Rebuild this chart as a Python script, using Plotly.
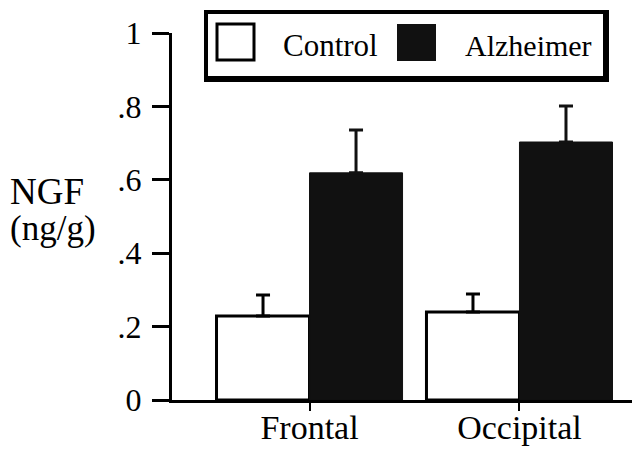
import plotly.graph_objects as go

regions = ["Frontal", "Occipital"]
series_names = ["Control", "Alzheimer"]
control_vals = [0.229, 0.240]
control_err = [0.057, 0.049]
alz_vals = [0.619, 0.703]
alz_err = [0.117, 0.098]
y_tickvals = [0, 0.2, 0.4, 0.6, 0.8, 1.0]
y_ticktext = ["0", ".2", ".4", ".6", ".8", "1"]

W, H = 640, 450
OFF = 8  # page body offset
ML, MR, MT, MB = 172 - OFF, OFF, 33 - OFF, 50 + OFF
PW, PH = W - ML - MR, H - MT - MB
FONT = "Liberation Serif, Times New Roman, serif"


def px(x):
    return (x - OFF - ML) / PW


def py(y):
    return (H - MB - (y - OFF)) / PH


fig = go.Figure()
fig.add_trace(go.Bar(
    x=regions, y=control_vals, name=series_names[0],
    marker=dict(color="white", line=dict(color="black", width=3)),
    error_y=dict(type="data", symmetric=False, array=control_err,
                 arrayminus=[0, 0], color="black", thickness=3, width=7),
    showlegend=False,
))
fig.add_trace(go.Bar(
    x=regions, y=alz_vals, name=series_names[1],
    marker=dict(color="#111111", line=dict(color="#111111", width=1)),
    error_y=dict(type="data", symmetric=False, array=alz_err,
                 arrayminus=[0, 0], color="#111111", thickness=3, width=7),
    showlegend=False,
))

shapes = [
    dict(type="rect", xref="paper", yref="paper", x0=px(204), x1=px(609),
         y0=py(82), y1=py(10), fillcolor="black", line=dict(width=0), layer="above"),
    dict(type="rect", xref="paper", yref="paper", x0=px(208), x1=px(603),
         y0=py(76), y1=py(14), fillcolor="white", line=dict(width=0), layer="above"),
    dict(type="rect", xref="paper", yref="paper", x0=px(217), x1=px(254),
         y0=py(60), y1=py(24), fillcolor="white", line=dict(color="black", width=3), layer="above"),
    dict(type="rect", xref="paper", yref="paper", x0=px(397), x1=px(436),
         y0=py(61), y1=py(24), fillcolor="#111111", line=dict(width=0), layer="above"),
]

annotations = [
    dict(text=series_names[0], xref="paper", yref="paper", x=px(281), y=py(45),
         xanchor="left", yanchor="middle", showarrow=False,
         font=dict(family=FONT, size=31, color="black")),
    dict(text=series_names[1], xref="paper", yref="paper", x=px(463), y=py(45),
         xanchor="left", yanchor="middle", showarrow=False,
         font=dict(family=FONT, size=30, color="black")),
    dict(text="NGF", xref="paper", yref="paper", x=px(8), y=py(191),
         xanchor="left", yanchor="middle", showarrow=False,
         font=dict(family=FONT, size=37, color="black")),
    dict(text="(ng/g)", xref="paper", yref="paper", x=px(8), y=py(228),
         xanchor="left", yanchor="middle", showarrow=False,
         font=dict(family=FONT, size=35, color="black")),
]

fig.update_layout(
    width=W, height=H,
    margin=dict(l=ML, r=MR, t=MT, b=MB, pad=0, autoexpand=False),
    paper_bgcolor="white", plot_bgcolor="white",
    barmode="group", bargap=0.114, bargroupgap=0,
    font=dict(family=FONT, color="black"),
    shapes=shapes, annotations=annotations,
    xaxis=dict(
        range=[-0.655, 1.574], showgrid=False, zeroline=False, automargin=False,
        showline=True, linecolor="black", linewidth=3,
        ticks="outside", ticklen=8, tickwidth=2, tickcolor="black",
        tickfont=dict(family=FONT, size=34, color="black"),
        ticklabelstandoff=-13, fixedrange=True,
    ),
    yaxis=dict(
        range=[0, 1], showgrid=False, zeroline=False, automargin=False,
        showline=True, linecolor="black", linewidth=3,
        tickvals=y_tickvals, ticktext=y_ticktext,
        ticks="outside", ticklen=17, tickwidth=3, tickcolor="black",
        tickfont=dict(family=FONT, size=32, color="black"),
        ticklabelstandoff=4, fixedrange=True,
    ),
)

fig.write_html("out.html")
